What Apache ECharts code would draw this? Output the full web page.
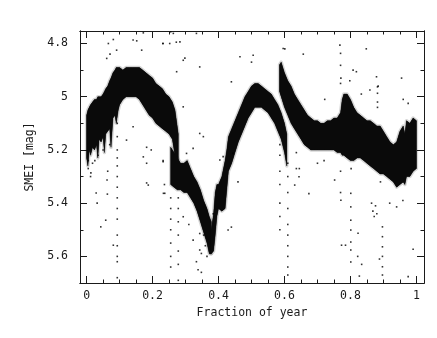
<!DOCTYPE html>
<html>
<head>
<meta charset="utf-8">
<script src="https://cdn.jsdelivr.net/npm/echarts@6/dist/echarts.min.js"></script>
<style>html,body{margin:0;padding:0;background:#fff}#c{width:437px;height:338px}</style>
</head>
<body>
<div id="c"></div>
<script>
// Tick values
const xMajor = [0, 0.2, 0.4, 0.6, 0.8, 1];
const xMinor = [0.05,0.1,0.15,0.25,0.3,0.35,0.45,0.5,0.55,0.65,0.7,0.75,0.85,0.9,0.95];
const yMajor = [4.8, 5.0, 5.2, 5.4, 5.6];
const yMinor = [4.9, 5.1, 5.3, 5.5];

// Dense band envelopes (x, brightest edge, faintest edge)
const segAx   = [0.000,0.004,0.008,0.012,0.018,0.024,0.030,0.034,0.038,0.044,0.050,0.054,0.058,0.064,0.070,0.074,0.080,0.086,0.090,0.096,0.100,0.110,0.120,0.130,0.140,0.150,0.160,0.170,0.180,0.190,0.200,0.210,0.220,0.230,0.240,0.250,0.260,0.268,0.278];
const segAtop = [5.07,5.05,5.04,5.03,5.02,5.01,5.01,5.00,5.00,5.00,4.99,4.98,4.97,4.96,4.94,4.93,4.91,4.90,4.89,4.89,4.89,4.90,4.89,4.89,4.89,4.89,4.89,4.90,4.91,4.92,4.93,4.95,4.96,4.97,4.99,5.00,5.02,5.05,5.14];
const segAbot = [5.23,5.26,5.20,5.22,5.19,5.20,5.18,5.23,5.16,5.17,5.15,5.21,5.14,5.13,5.12,5.19,5.08,5.07,5.10,5.05,5.03,5.01,5.00,5.00,5.00,5.00,5.01,5.03,5.05,5.07,5.08,5.10,5.11,5.12,5.13,5.14,5.16,5.22,5.30];

const segBx   = [0.255,0.265,0.275,0.285,0.295,0.305,0.315,0.325,0.335,0.345,0.355,0.365,0.372,0.378];
const segBtop = [5.19,5.21,5.23,5.25,5.25,5.24,5.27,5.30,5.32,5.35,5.39,5.42,5.45,5.47];
const segBbot = [5.33,5.34,5.35,5.35,5.36,5.36,5.38,5.40,5.43,5.47,5.51,5.55,5.59,5.59];

const segCx   = [0.378,0.385,0.390,0.395,0.400,0.410,0.420,0.425,0.430,0.440,0.450,0.460,0.470,0.480,0.490,0.500,0.510,0.520,0.530,0.540,0.550,0.560,0.570,0.580,0.590,0.600,0.607];
const segCtop = [5.50,5.44,5.36,5.33,5.33,5.30,5.24,5.20,5.15,5.12,5.09,5.06,5.03,5.00,4.98,4.96,4.95,4.95,4.96,4.97,4.98,4.99,5.01,5.03,5.06,5.10,5.14];
const segCbot = [5.59,5.58,5.52,5.45,5.42,5.43,5.42,5.35,5.28,5.25,5.21,5.17,5.14,5.11,5.08,5.06,5.04,5.04,5.04,5.05,5.06,5.08,5.10,5.13,5.16,5.21,5.26];

const segDx   = [0.585,0.590,0.595,0.600,0.610,0.620,0.630,0.640,0.650,0.660,0.670,0.680,0.690,0.700,0.710,0.720,0.730,0.740,0.750,0.760,0.770,0.775,0.780,0.790,0.800,0.810,0.820,0.830,0.840,0.850,0.860,0.870,0.880,0.890,0.900,0.910,0.920,0.930,0.940,0.950,0.960,0.965,0.970,0.980,0.990,1.000];
const segDtop = [4.88,4.87,4.89,4.91,4.94,4.96,4.99,5.01,5.03,5.05,5.07,5.08,5.09,5.09,5.10,5.10,5.09,5.09,5.08,5.08,5.06,5.01,4.99,4.99,5.01,5.04,5.06,5.07,5.08,5.09,5.09,5.10,5.11,5.11,5.13,5.15,5.17,5.18,5.17,5.13,5.11,5.14,5.09,5.10,5.08,5.09];
const segDbot = [4.98,5.00,5.02,5.04,5.07,5.10,5.12,5.14,5.16,5.18,5.19,5.20,5.20,5.20,5.20,5.20,5.20,5.20,5.20,5.21,5.21,5.22,5.22,5.23,5.24,5.24,5.23,5.23,5.24,5.25,5.26,5.27,5.28,5.29,5.29,5.30,5.31,5.32,5.34,5.33,5.32,5.33,5.30,5.30,5.28,5.27];

const outX = [0.066,0.081,0.071,0.061,0.091,0.141,0.152,0.172,0.167,0.232,0.255,0.263,0.283,0.293,0.273,0.333,0.343,0.505,0.601,0.657,0.768,0.848,0.808,0.818,0.879,0.955,0.722,0.96,0.975,0.833,0.859,0.884,0.798,
  0.770,0.770,0.771,0.770,0.882,0.882,0.882,0.882,0.465,0.439,0.500,0.596,0.298,0.231,0.252,0.272,
  0.013,0.029,0.032,0.062,0.063,0.058,0.043,0.081,0.064,0.182,0.182,0.233,0.236,
  0.093,0.093,0.093,0.093,0.093,0.093,0.093,0.093,0.093,0.093,0.093,0.093,0.093,0.093,0.093,
  0.005,0.005,0.012,0.018,0.025,0.035,0.050,0.070,0.121,0.172,0.182,0.196,0.232,0.141,0.187,0.237,
  0.255,0.255,0.255,0.255,0.255,0.255,0.255,0.278,0.278,0.278,0.278,0.278,0.278,0.278,
  0.343,0.348,0.333,0.338,0.348,0.303,0.343,0.354,0.404,0.414,0.323,0.232,0.293,0.384,0.444,0.360,0.355,0.365,0.310,0.323,0.343,0.293,0.429,0.459,0.439,
  0.586,0.586,0.586,0.586,0.586,0.586,0.586,0.610,0.610,0.610,0.610,0.610,0.610,0.610,0.610,0.610,0.610,0.636,0.636,
  0.631,0.644,0.674,0.645,0.752,0.771,0.770,0.801,0.801,0.801,0.801,0.801,0.801,0.801,
  0.773,0.785,0.823,0.822,0.834,0.864,0.868,0.872,0.876,0.880,0.897,0.897,0.897,0.897,0.897,0.897,
  0.888,0.919,0.940,0.959,0.990,0.975,0.827,0.891,0.770,0.802,0.700,0.720];
const outY = [4.800,4.785,4.840,4.856,4.825,4.787,4.790,4.760,4.825,4.800,4.756,4.762,4.794,4.863,4.906,4.762,4.888,4.844,4.820,4.840,4.806,4.820,4.900,4.906,4.925,4.930,5.010,5.010,5.025,4.990,4.975,4.960,4.940,
  4.837,4.882,4.930,4.950,4.963,4.987,5.020,5.040,4.850,4.944,4.870,4.819,4.855,4.800,4.800,4.795,
  5.286,5.362,5.400,5.313,5.366,5.464,5.489,5.558,5.280,5.324,5.250,5.363,5.330,
  5.10,5.15,5.20,5.23,5.26,5.30,5.34,5.38,5.42,5.46,5.52,5.56,5.60,5.62,5.68,
  5.24,5.27,5.30,5.25,5.24,5.22,5.20,5.18,5.163,5.226,5.19,5.20,5.24,5.113,5.332,5.363,
  5.38,5.42,5.46,5.50,5.55,5.60,5.64,5.38,5.42,5.47,5.52,5.58,5.63,5.69,
  5.514,5.589,5.620,5.650,5.660,5.213,5.138,5.150,5.238,5.225,5.194,5.244,5.038,5.440,5.213,5.560,5.520,5.600,5.480,5.539,5.576,5.451,5.501,5.320,5.490,
  5.18,5.22,5.28,5.33,5.40,5.45,5.50,5.25,5.30,5.36,5.42,5.48,5.52,5.56,5.60,5.64,5.67,5.21,5.27,
  5.332,5.301,5.364,5.270,5.313,5.389,5.360,5.363,5.414,5.464,5.501,5.546,5.576,5.621,
  5.558,5.558,5.513,5.600,5.630,5.400,5.430,5.450,5.410,5.440,5.489,5.526,5.564,5.600,5.639,5.670,
  5.610,5.400,5.414,5.390,5.573,5.676,5.674,5.320,5.280,5.270,5.250,5.240];

const segments = [[segAx,segAtop,segAbot],[segBx,segBtop,segBbot],[segCx,segCtop,segCbot],[segDx,segDtop,segDbot]];

const chart = echarts.init(document.getElementById('c'), null, {renderer:'canvas'});
const FONT = 'DejaVu Sans Mono';
const INK = '#1a1a1a';
const X_MIN = -0.02, X_MAX = 1.023, Y_MIN = 4.753, Y_MAX = 5.70;

function xAx(pos, ticks, len, labels, extra) {
  return Object.assign({
    type:'value', position:pos, min:X_MIN, max:X_MAX,
    axisLine:{show:true, onZero:false, lineStyle:{color:INK, width:1}},
    axisTick:{show:true, inside:true, length:len, customValues:ticks, lineStyle:{color:INK,width:1}},
    axisLabel:{show:labels, customValues:ticks, fontFamily:FONT, fontSize:11.5, color:INK, margin:7,
      formatter:v => String(+v.toFixed(2))},
    splitLine:{show:false}
  }, extra||{});
}
function yAx(pos, ticks, len, labels, extra) {
  return Object.assign({
    type:'value', position:pos, min:Y_MIN, max:Y_MAX, inverse:true,
    axisLine:{show:true, onZero:false, lineStyle:{color:INK, width:1}},
    axisTick:{show:true, inside:true, length:len, customValues:ticks, lineStyle:{color:INK,width:1}},
    axisLabel:{show:labels, customValues:ticks, fontFamily:FONT, fontSize:11.5, color:INK, margin:12,
      formatter:v => String(+v.toFixed(2))},
    splitLine:{show:false}
  }, extra||{});
}

function bandSeries(seg, style) {
  return {
    type:'custom', xAxisIndex:0, yAxisIndex:0, silent:true, clip:true,
    data: seg[0].map((x,i) => [x, seg[1][i], seg[2][i]]),
    encode:{x:0, y:[1,2]},
    renderItem:(params, api) => {
      if (params.dataIndex !== 0) return null;
      const pts = [];
      for (let i = 0; i < seg[0].length; i++) pts.push(api.coord([seg[0][i], seg[1][i]]));
      for (let i = seg[0].length - 1; i >= 0; i--) pts.push(api.coord([seg[0][i], seg[2][i]]));
      return {type:'polygon', shape:{points:pts}, style:style};
    }
  };
}
const series = [];
// faint fringe of sparse points around the dense band
segments.forEach(seg => series.push(bandSeries(seg, {fill:'#0a0a0a', stroke:'rgba(0,0,0,0.16)', lineWidth:3.5, lineJoin:'round'})));
segments.forEach(seg => series.push(bandSeries(seg, {fill:'#0a0a0a', stroke:'#0a0a0a', lineWidth:0.5})));
series.push({
  type:'scatter', xAxisIndex:0, yAxisIndex:0, silent:true,
  symbol:'rect', symbolSize:1.6, itemStyle:{color:'#000'},
  data: outX.map((x,i) => [x, outY[i]])
});

chart.setOption({
  animation:false,
  backgroundColor:'#fff',
  grid:{left:80, right:13, top:31, bottom:55},
  xAxis:[
    xAx('bottom', xMajor, 7, true, {name:'Fraction of year', nameLocation:'middle', nameGap:20,
      nameTextStyle:{fontFamily:FONT, fontSize:11.5, color:INK}}),
    xAx('bottom', xMinor, 3.5, false),
    xAx('top', xMajor, 7, false),
    xAx('top', xMinor, 3.5, false)
  ],
  yAxis:[
    yAx('left', yMajor, 7, true, {name:'SMEI [mag]', nameLocation:'middle', nameGap:37, nameRotate:90,
      nameTextStyle:{fontFamily:FONT, fontSize:11.5, color:INK}}),
    yAx('left', yMinor, 3.5, false),
    yAx('right', yMajor, 7, false),
    yAx('right', yMinor, 3.5, false)
  ],
  series: series
});
</script>
</body>
</html>
